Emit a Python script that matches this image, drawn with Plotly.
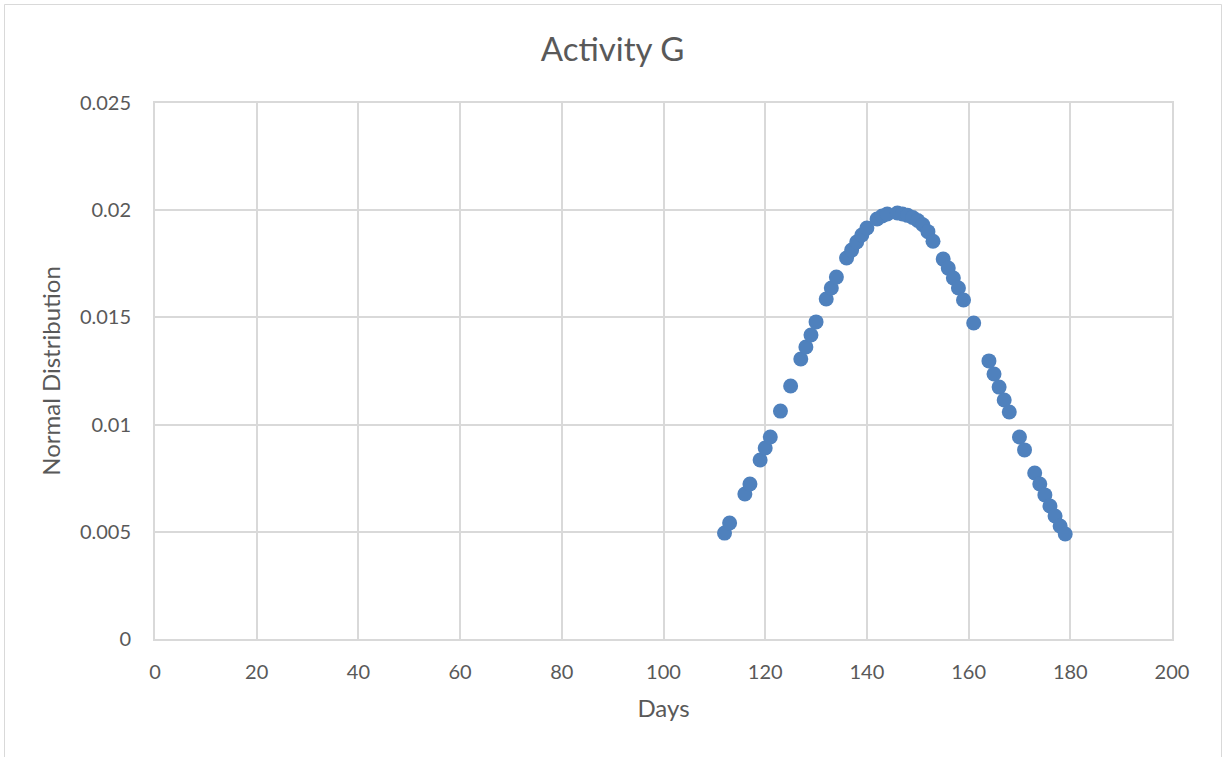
import plotly.graph_objects as go

# Data
days = [112, 113, 116, 117, 119, 120, 121, 123, 125, 127, 128, 129, 130, 132, 133, 134,
        136, 137, 138, 139, 140, 142, 143, 144, 146, 147, 148, 149, 150, 151, 152, 153,
        155, 156, 157, 158, 159, 161, 164, 165, 166, 167, 168, 170, 171, 173, 174, 175,
        176, 177, 178, 179]
normal_dist = [0.00494, 0.00541, 0.00676, 0.00723, 0.00835, 0.00891, 0.00942, 0.01063,
               0.01180, 0.01306, 0.01362, 0.01418, 0.01479, 0.01586, 0.01637, 0.01688,
               0.01777, 0.01814, 0.01852, 0.01884, 0.01917, 0.01959, 0.01973, 0.01982,
               0.01987, 0.01982, 0.01976, 0.01966, 0.01952, 0.01932, 0.01900, 0.01855,
               0.01772, 0.01730, 0.01684, 0.01637, 0.01581, 0.01474, 0.01297, 0.01236,
               0.01175, 0.01115, 0.01059, 0.00942, 0.00882, 0.00774, 0.00723, 0.00672,
               0.00620, 0.00574, 0.00527, 0.00490]

x_ticks = [0, 20, 40, 60, 80, 100, 120, 140, 160, 180, 200]
y_ticks = [0, 0.005, 0.01, 0.015, 0.02, 0.025]
y_tick_labels = ["0", "0.005", "0.01", "0.015", "0.02", "0.025"]

FONT = "Lato"
TXT = "#595959"
GRID = "#D9D9D9"

fig = go.Figure()
fig.add_trace(go.Scatter(
    x=days, y=normal_dist, mode="markers",
    marker=dict(size=15, color="#4F81BD", line=dict(width=0)),
    showlegend=False,
))

fig.update_layout(
    width=1225, height=757,
    paper_bgcolor="white", plot_bgcolor="white",
    margin=dict(l=155, r=53, t=103, b=118),
    title=dict(text="Activity G", x=0.5, xanchor="center", y=1 - 49 / 757, yanchor="middle",
               font=dict(family=FONT, size=33, color=TXT)),
    font=dict(family=FONT, color=TXT),
    xaxis=dict(
        range=[0, 200], tickvals=x_ticks, showgrid=True, gridcolor=GRID, gridwidth=2,
        zeroline=False, showline=True, linecolor=GRID, linewidth=2, mirror=True,
        ticks="", ticklabelstandoff=14,
        tickfont=dict(family=FONT, size=20, color=TXT),
        title=dict(text="Days", font=dict(family=FONT, size=24, color=TXT), standoff=18),
    ),
    yaxis=dict(
        range=[0, 0.025], tickvals=y_ticks, ticktext=y_tick_labels, showgrid=True,
        gridcolor=GRID, gridwidth=2, zeroline=False, showline=True, linecolor=GRID,
        linewidth=2, mirror=True, ticks="", ticklabelstandoff=18,
        tickfont=dict(family=FONT, size=20, color=TXT),
        title=dict(text="Normal Distribution", font=dict(family=FONT, size=24, color=TXT), standoff=12),
    ),
)

# outer chart border
fig.add_shape(type="rect", xref="paper", yref="paper",
              x0=(4.5 - 155) / 1017, x1=(1221.5 - 155) / 1017,
              y0=(639 - 762) / 536, y1=(639 - 4.5) / 536,
              line=dict(color=GRID, width=1), fillcolor="rgba(0,0,0,0)", layer="below")

fig.write_html("out.html")
